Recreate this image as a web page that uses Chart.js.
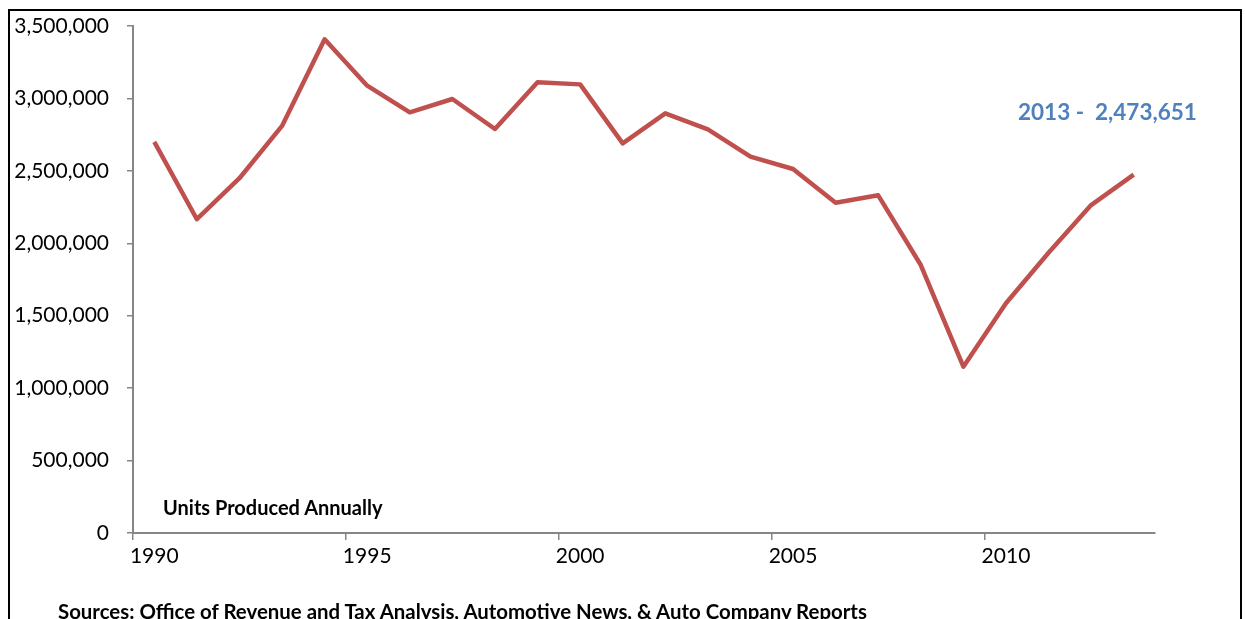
<!DOCTYPE html>
<html>
<head>
<meta charset="utf-8">
<script src="https://cdn.jsdelivr.net/npm/chart.js@4/dist/chart.umd.min.js"></script>
<style>
  html, body { margin: 0; padding: 0; background: #fff; overflow: hidden; }
  body { width: 1245px; height: 619px; position: relative; font-family: Lato, "Open Sans", sans-serif; }
  #wrap { position: absolute; left: 0; top: 0; width: 1245px; height: 619px; }
  #frame { position: absolute; left: 8px; top: 9px; width: 1230px; height: 700px; border: 2px solid #000; box-sizing: content-box; pointer-events: none; }
  .note { position: absolute; white-space: nowrap; font-weight: bold; line-height: 1; }
  #units { left: 163px; top: 497px; font-size: 20px; color: #000; }
  #last { left: 1018px; top: 101px; font-size: 22.5px; color: #4F81BD; }
  #src { left: 58px; top: 601px; font-size: 20.4px; color: #000; }
</style>
</head>
<body>
<div id="wrap"><canvas id="c" width="1245" height="619"></canvas></div>
<div id="frame"></div>
<div class="note" id="units">Units Produced Annually</div>
<div class="note" id="last">2013 -&nbsp;&nbsp;2,473,651</div>
<div class="note" id="src">Sources: Office of Revenue and Tax Analysis, Automotive News, &amp; Auto Company Reports</div>
<script>
// Data
const years = [1990,1991,1992,1993,1994,1995,1996,1997,1998,1999,2000,2001,2002,2003,2004,2005,2006,2007,2008,2009,2010,2011,2012,2013];
const unitsProduced = [2700000,2166000,2449000,2810000,3408000,3088000,2904000,2996000,2789000,3111000,3097000,2690000,2897000,2787000,2598000,2513000,2280000,2331000,1850000,1148000,1586000,1935000,2264000,2473651];
const xTickYears = [1990,1995,2000,2005,2010];
const yTicks = [0,500000,1000000,1500000,2000000,2500000,3000000,3500000];

const axisGray = '#868686';
const fontFamily = 'Lato, "Open Sans", sans-serif';

new Chart(document.getElementById('c'), {
  type: 'line',
  data: {
    labels: years.map(String),
    datasets: [{
      data: unitsProduced,
      borderColor: '#C0504D',
      borderWidth: 4.5,
      pointRadius: 0,
      tension: 0,
      borderJoinStyle: 'round',
      fill: false
    }]
  },
  options: {
    responsive: false,
    animation: false,
    events: [],
    layout: { padding: { top: 26, right: 90, left: 8, bottom: 0 } },
    plugins: { legend: { display: false }, tooltip: { enabled: false }, title: { display: false } },
    scales: {
      x: {
        type: 'category',
        offset: true,
        grid: {
          offset: true,
          drawOnChartArea: false,
          drawTicks: true,
          tickLength: 7,
          lineWidth: 1.5,
          color: (ctx) => {
            const y = years[ctx.index];
            return (y !== undefined && xTickYears.includes(y)) ? axisGray : 'rgba(0,0,0,0)';
          }
        },
        border: { display: true, color: axisGray, width: 2 },
        ticks: {
          autoSkip: false,
          maxRotation: 0,
          minRotation: 0,
          color: '#000',
          padding: 4,
          font: { family: fontFamily, size: 21 },
          callback: function(value, index) {
            const y = years[index];
            return xTickYears.includes(y) ? String(y) : '';
          }
        },
        afterFit: (scale) => { scale.height = 86; }
      },
      y: {
        min: 0,
        max: 3500000,
        afterBuildTicks: (scale) => { scale.ticks = yTicks.map(v => ({ value: v })); },
        grid: {
          drawOnChartArea: false,
          drawTicks: true,
          tickLength: 6,
          lineWidth: 1.5,
          color: axisGray
        },
        border: { display: true, color: axisGray, width: 2 },
        ticks: {
          color: '#000',
          padding: 18,
          font: { family: fontFamily, size: 21 },
          callback: (v) => Number(v).toLocaleString('en-US')
        },
        afterFit: (scale) => { scale.width = 125; scale.paddingTop = 0; scale.paddingBottom = 0; }
      }
    }
  }
});
</script>
</body>
</html>
